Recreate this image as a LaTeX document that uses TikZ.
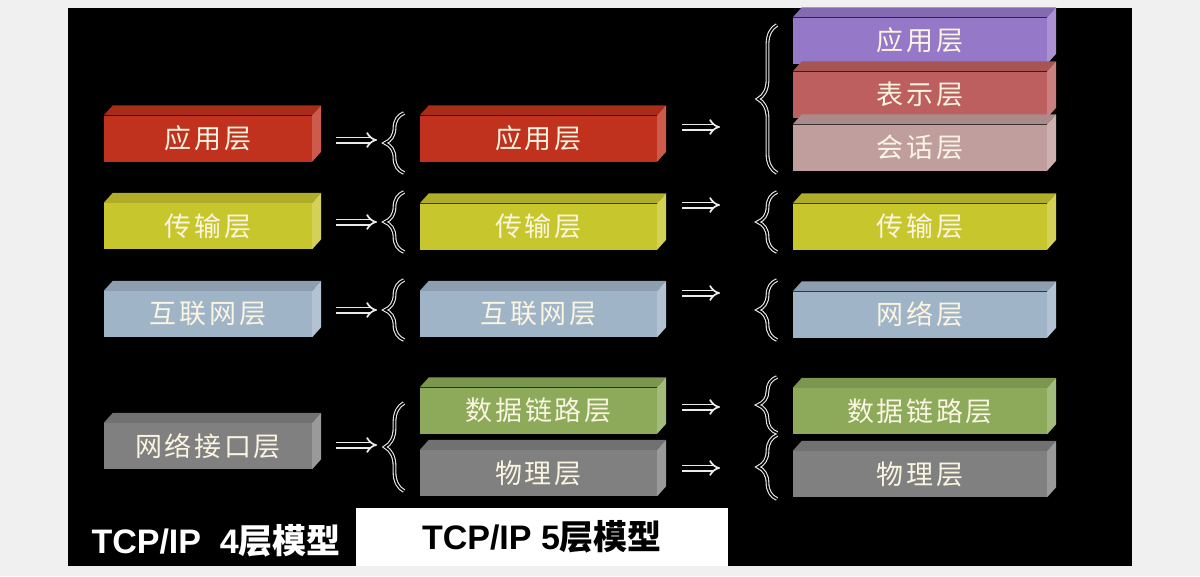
\documentclass[tikz,border=0pt]{standalone}
\usepackage{fontspec}
\setmainfont{Liberation Sans}
\newfontfamily\cjk[LetterSpace=10]{Noto Sans CJK SC}
\newfontfamily\cjkb{Noto Sans CJK SC Bold}
\usepackage{xcolor}
\usepackage{tikz}
\usetikzlibrary{arrows.meta,positioning,decorations.pathreplacing}
\definecolor{zbg}{RGB}{240,240,240}
\definecolor{zred}{RGB}{192,50,30}
\definecolor{zyellow}{RGB}{200,198,45}
\definecolor{zblue}{RGB}{160,180,200}
\definecolor{zgray}{RGB}{128,128,128}
\definecolor{zgreen}{RGB}{140,170,90}
\definecolor{zpurple}{RGB}{150,120,200}
\definecolor{zrose}{RGB}{190,95,95}
\definecolor{zpink}{RGB}{192,158,158}
\definecolor{ztext}{RGB}{250,245,225}

% one 3d layer bar: name, x, y, width, colour, text
\newcommand{\layerbar}[6]{%
  \node[layer, fill=#5, minimum width=#4] (#1) at (#2,#3) {#6};
  \fill[#5!88!black] (#1.north west) -- ++(9,-10) -- ([shift={(9,-10)}]#1.north east) -- (#1.north east) -- cycle;
  \fill[#5!80!white] (#1.north east) -- ++(9,-10) -- ([shift={(9,-10)}]#1.south east) -- (#1.south east) -- cycle;
}

\begin{document}
\begin{tikzpicture}[x=1pt, y=-1pt,
  layer/.style={minimum height=46, inner sep=0, text=ztext, font=\cjk\fontsize{27}{29}\selectfont},
  imp/.style={white!92!black, line width=1.7pt, double=black, double distance=3.6pt, -{Implies}},
  curly/.style={white!92!black, line width=1.1pt, double=black, double distance=1.6pt,
    decorate, decoration={brace, amplitude=19pt, aspect=0.5}}]
\useasboundingbox (0,0) rectangle (1200,576);
\fill[zbg] (0,0) rectangle (1200,576);
\fill[black] (68,8) rectangle (1132,566);
% left column: 4 layers
\foreach \n/\y/\c/\t in {lapp/138.5/zred/应用层, ltra/226/zyellow/传输层,
    lnet/314/zblue/互联网层, lif/446/zgray/网络接口层}
  {\layerbar{\n}{208}{\y}{208}{\c}{\t}}
% middle column: 5 layers
\foreach \n/\y/\c/\t in {mapp/138.5/zred/应用层, mtra/226.5/zyellow/传输层,
    mnet/314/zblue/互联网层, mdl/410.5/zgreen/数据链路层, mphy/473/zgray/物理层}
  {\layerbar{\n}{538.5}{\y}{237}{\c}{\t}}
% right column: 7 layers
\foreach \n/\y/\c/\t in {rapp/40.5/zpurple/应用层, rpre/94.5/zrose/表示层,
    rses/147.5/zpink/会话层, rtra/226.5/zyellow/传输层, rnet/314.5/zblue/网络层,
    rdl/411/zgreen/数据链路层, rphy/474/zgray/物理层}
  {\layerbar{\n}{920}{\y}{254}{\c}{\t}}
% arrows into the braces
\foreach \a/\y in {lapp/140, ltra/222, lnet/310, lif/445} {
  \coordinate (\a-to) at (377,\y);
  \draw[imp, shorten <=24pt] (\a.east |- \a-to) -- (\a-to);
}
\foreach \a/\y in {mapp/127, mtra/205, mnet/293, mdl/407, mphy/468} {
  \coordinate (\a-to) at (720,\y);
  \draw[imp, shorten <=25pt] (\a.east |- \a-to) -- (\a-to);
}
% braces
\foreach \t/\b in {113/173, 192/252, 280/340, 403/491}
  \draw[curly] (404,\b) -- (404,\t);
\foreach \t/\b in {25/173, 192/252, 280/340, 377/433, 435/499}
  \draw[curly] (777,\b) -- (777,\t);
% captions
\node[anchor=west, text=white, font=\bfseries\fontsize{34}{36}\selectfont] (four) at (88,541)
  {TCP/IP\ \ 4{\cjkb 层模型}};
\node[fill=white, minimum width=372, minimum height=58, inner sep=0,
  font=\bfseries\fontsize{34}{36}\selectfont] (five) at (542,537) {TCP/IP 5{\cjkb 层模型}};
\end{tikzpicture}
\end{document}
